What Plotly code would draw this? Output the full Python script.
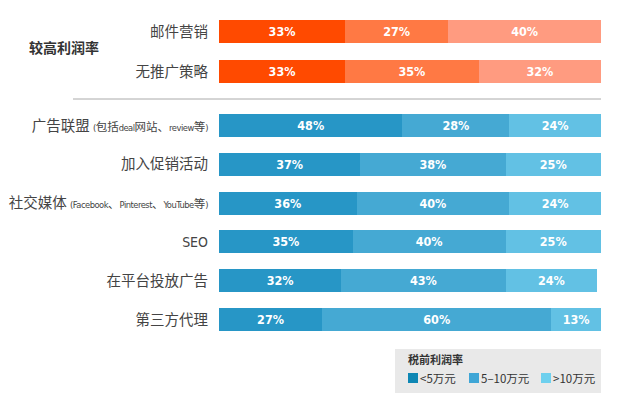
import plotly.graph_objects as go

# ---- data ----
top_categories = ["邮件营销", "无推广策略"]
top_low = [33, 33]
top_mid = [27, 35]
top_high = [40, 32]

narrow = "font-family:DejaVu Sans Condensed;letter-spacing:-0.5px;"
def latin(s):
    return f"<span style=\"font-size:9.3px;{narrow}\">{s}</span>"
def small(s):
    return f"<span style=\"font-size:11.5px\">{s}</span>"

bottom_categories = [
    "广告联盟 " + latin("(") + small("包括") + latin("deal") + small("网站、") + latin("review") + small("等") + latin(")"),
    "加入促销活动",
    "社交媒体 " + latin("(Facebook") + small("、") + latin("Pinterest") + small("、") + latin("YouTube") + small("等") + latin(")"),
    "<span style=\"font-family:DejaVu Sans Condensed;font-size:14px\">SEO</span>",
    "在平台投放广告",
    "第三方代理",
]
bottom_low = [48, 37, 36, 35, 32, 27]
bottom_mid = [28, 38, 40, 40, 43, 60]
bottom_high = [24, 25, 24, 25, 24, 13]

series_names = ["<5万元", "5–10万元", ">10万元"]
group_title = "较高利润率"
legend_title = "税前利润率"

# ---- styling ----
orange_colors = ["#FF4A00", "#FF7944", "#FF9B80"]
blue_colors = ["#2796C6", "#45A9D3", "#62C1E4"]
legend_colors = ["#0E87B4", "#3FA6D6", "#6ED0EE"]

# page is 620x398; the html body has an 8px margin, so the figure is shrunk by 8px
OFF = 8
W, H = 620, 398
top_start, top_step = 31.5, 40.0
bot_start, bot_step = 125.5, 38.8
bar_h = 23

top_y = [top_start + i * top_step for i in range(len(top_categories))]
bot_y = [bot_start + i * bot_step for i in range(len(bottom_categories))]

fig = go.Figure()
label_font = dict(family="DejaVu Sans Condensed, Liberation Sans, sans-serif", size=12.5, color="white")

for vals, col in zip([top_low, top_mid, top_high], orange_colors):
    fig.add_trace(go.Bar(
        x=vals, y=top_y, orientation="h", width=bar_h,
        marker=dict(color=col, line=dict(width=0)),
        text=[f"<b>{v}%</b>" for v in vals], textposition="inside",
        insidetextanchor="middle", textfont=label_font, textangle=0,
        showlegend=False, hoverinfo="x"))

for vals, col in zip([bottom_low, bottom_mid, bottom_high], blue_colors):
    fig.add_trace(go.Bar(
        x=vals, y=bot_y, orientation="h", width=bar_h,
        marker=dict(color=col, line=dict(width=0)),
        text=[f"<b>{v}%</b>" for v in vals], textposition="inside",
        insidetextanchor="middle", textfont=label_font, textangle=0,
        showlegend=False, hoverinfo="x"))

x0, x1 = 219, 601
def px(x):
    return (x - x0) / (x1 - x0)

fig.update_layout(
    width=W - OFF, height=H - OFF,
    margin=dict(l=x0 - OFF, r=W - x1, t=0, b=0, pad=0),
    barmode="stack",
    plot_bgcolor="white", paper_bgcolor="white",
    font=dict(family="Noto Sans CJK SC", color="#444"),
    xaxis=dict(range=[0, 100], visible=False, fixedrange=True, automargin=False),
    yaxis=dict(range=[H, OFF], tickvals=top_y + bot_y,
               ticktext=top_categories + bottom_categories,
               tickfont=dict(family="Noto Sans CJK SC", size=14.5, color="#444"),
               showgrid=False, zeroline=False, showline=False, automargin=False,
               ticks="", ticklabelstandoff=10),
)

# separator line
fig.add_shape(type="line", xref="paper", yref="y", x0=px(73), x1=1, y0=99, y1=99,
              line=dict(color="#AAAAAA", width=1))

# group title
fig.add_annotation(xref="paper", yref="y", x=px(27), y=(top_y[0] + top_y[1]) / 2 - 5,
                   text=f"<b>{group_title}</b>", showarrow=False, xanchor="left",
                   font=dict(family="Noto Sans CJK SC", size=14, color="#333"))

# legend box
fig.add_shape(type="rect", xref="paper", yref="y", x0=px(395), x1=px(601), y0=349, y1=393,
              fillcolor="#E9E9E9", line=dict(width=0), layer="below")
fig.add_annotation(xref="paper", yref="y", x=px(406), y=359, text=f"<b>{legend_title}</b>",
                   showarrow=False, xanchor="left",
                   font=dict(family="Noto Sans CJK SC", size=11, color="#333"))
sq_x = [408, 469, 541]
for sx, name, col in zip(sq_x, series_names, legend_colors):
    fig.add_shape(type="rect", xref="paper", yref="y", x0=px(sx), x1=px(sx + 10),
                  y0=373, y1=383, fillcolor=col, line=dict(width=0))
    fig.add_annotation(xref="paper", yref="y", x=px(sx + 10), y=378, text=name,
                       showarrow=False, xanchor="left",
                       font=dict(family="Noto Sans CJK SC", size=11.5, color="#333"))

fig.write_html("out.html")
